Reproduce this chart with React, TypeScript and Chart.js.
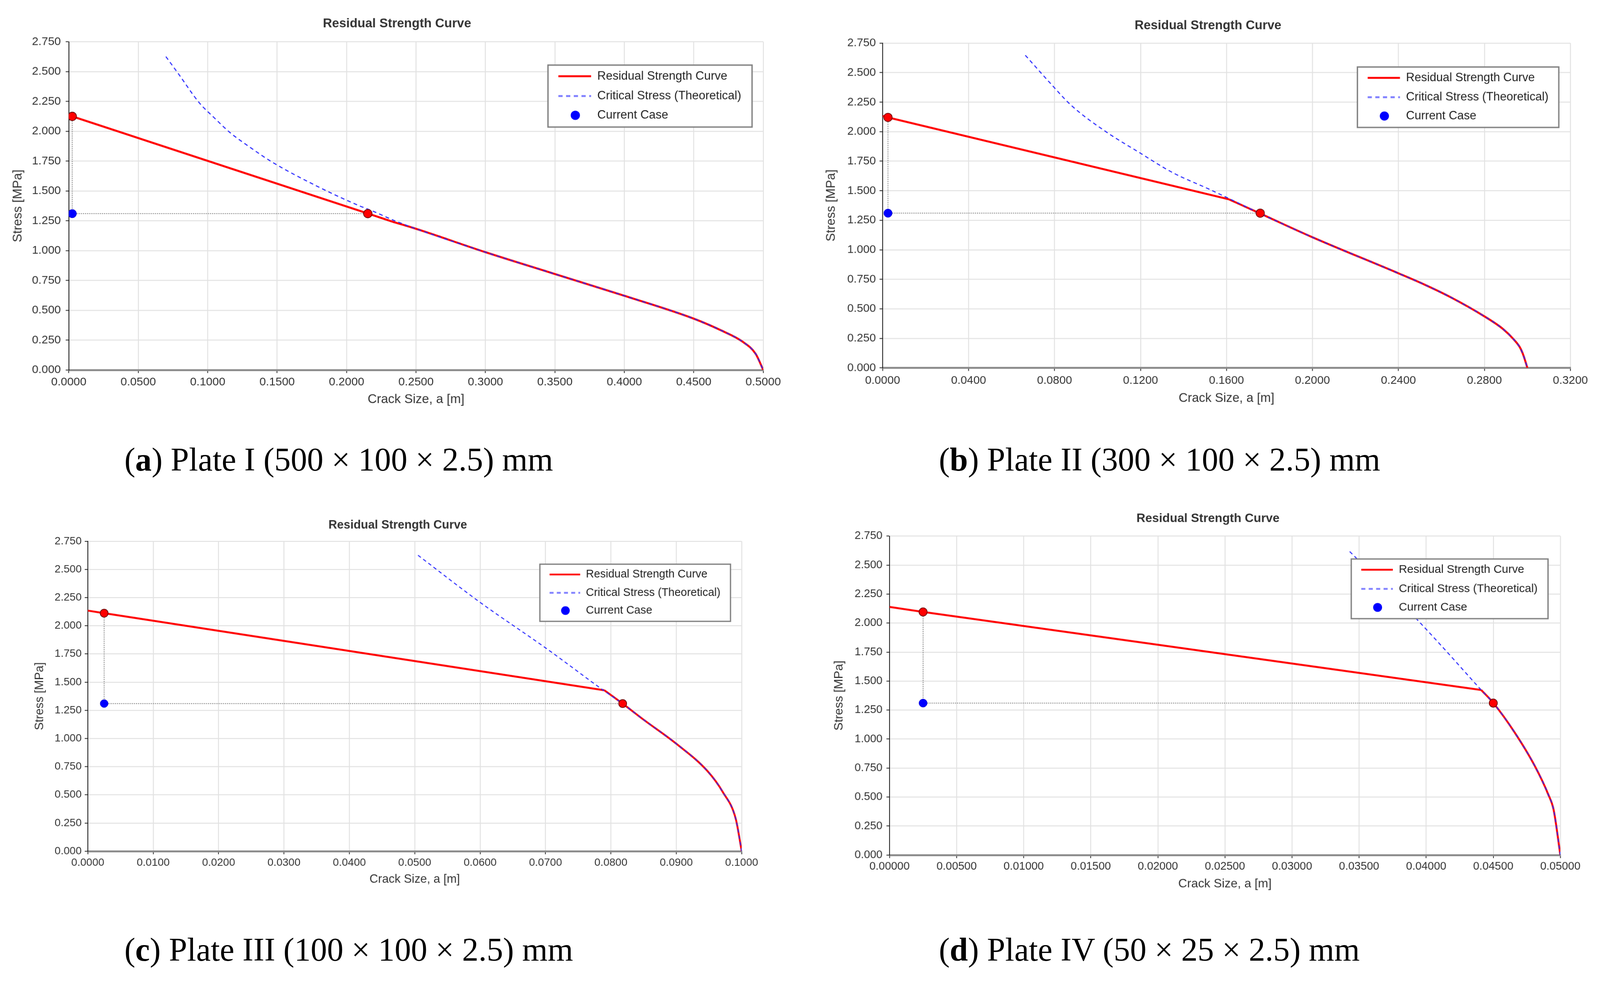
import { useEffect, useRef } from "react";
import { Chart, registerables } from "chart.js";

Chart.register(...registerables);
Chart.defaults.font.family = "'Liberation Sans', Arial, sans-serif";

// ---- data ----
const legendLabels = ["Residual Strength Curve", "Critical Stress (Theoretical)", "Current Case"];
const stressTicks = [0, 0.25, 0.5, 0.75, 1, 1.25, 1.5, 1.75, 2, 2.25, 2.5, 2.75];

// Plate I (500 x 100 x 2.5): straight part up to the knee, then the curved part
const plate1Ticks = [0, 0.05, 0.1, 0.15, 0.2, 0.25, 0.3, 0.35, 0.4, 0.45, 0.5];
const plate1LineA = [0, 0.0025, 0.2153, 0.233];
const plate1LineS = [2.135, 2.125, 1.311, 1.243];
const plate1CurveA = [0.233, 0.25, 0.3, 0.35, 0.4, 0.45, 0.47, 0.485, 0.4945, 0.5];
const plate1CurveS = [1.243, 1.183, 0.987, 0.804, 0.622, 0.43, 0.33, 0.238, 0.136, 0];
const plate1CriticalA = [0.0699, 0.0791, 0.0938, 0.105, 0.116, 0.13, 0.146, 0.1763, 0.2081, 0.2187, 0.2346, 0.25, 0.3, 0.35, 0.4, 0.45, 0.47, 0.485, 0.4945, 0.5];
const plate1CriticalS = [2.626, 2.479, 2.241, 2.11, 1.99, 1.87, 1.745, 1.554, 1.381, 1.332, 1.251, 1.183, 0.987, 0.804, 0.622, 0.43, 0.33, 0.238, 0.136, 0];

// Plate II (300 x 100 x 2.5)
const plate2Ticks = [0, 0.04, 0.08, 0.12, 0.16, 0.2, 0.24, 0.28, 0.32];
const plate2LineA = [0, 0.0025, 0.1612];
const plate2LineS = [2.133, 2.121, 1.427];
const plate2CurveA = [0.1612, 0.1757, 0.199, 0.24, 0.2518, 0.2642, 0.28, 0.2888, 0.2937, 0.2965, 0.2981, 0.3];
const plate2CurveS = [1.427, 1.307, 1.114, 0.801, 0.708, 0.599, 0.436, 0.327, 0.24, 0.174, 0.109, 0];
const plate2CriticalA = [0.0664, 0.0782, 0.0877, 0.1043, 0.1185, 0.1351, 0.1517, 0.1624, 0.1757, 0.199, 0.24, 0.2518, 0.2642, 0.28, 0.2888, 0.2937, 0.2965, 0.2981, 0.3];
const plate2CriticalS = [2.647, 2.407, 2.224, 1.995, 1.834, 1.652, 1.515, 1.423, 1.307, 1.114, 0.801, 0.708, 0.599, 0.436, 0.327, 0.24, 0.174, 0.109, 0];

// Plate III (100 x 100 x 2.5)
const plate3Ticks = [0, 0.01, 0.02, 0.03, 0.04, 0.05, 0.06, 0.07, 0.08, 0.09, 0.1];
const plate3LineA = [0, 0.0025, 0.079];
const plate3LineS = [2.135, 2.112, 1.428];
const plate3CurveA = [0.079, 0.0818, 0.085, 0.0901, 0.0948, 0.0971, 0.0991, 0.1];
const plate3CurveS = [1.428, 1.309, 1.167, 0.949, 0.709, 0.526, 0.286, 0];
const plate3CriticalA = [0.0505, 0.06, 0.0702, 0.0788, 0.0818, 0.085, 0.0901, 0.0948, 0.0971, 0.0991, 0.1];
const plate3CriticalS = [2.626, 2.208, 1.796, 1.43, 1.309, 1.167, 0.949, 0.709, 0.526, 0.286, 0];

// Plate IV (50 x 25 x 2.5)
const plate4Ticks = [0, 0.005, 0.01, 0.015, 0.02, 0.025, 0.03, 0.035, 0.04, 0.045, 0.05];
const plate4LineA = [0, 0.0025, 0.0441];
const plate4LineS = [2.139, 2.096, 1.423];
const plate4CurveA = [0.0441, 0.045, 0.0466, 0.0481, 0.0491, 0.0495, 0.05];
const plate4CurveS = [1.423, 1.312, 1.056, 0.767, 0.522, 0.389, 0];
const plate4CriticalA = [0.0343, 0.0392, 0.0416, 0.0441, 0.045, 0.0466, 0.0481, 0.0491, 0.0495, 0.05];
const plate4CriticalS = [2.617, 2.045, 1.745, 1.423, 1.312, 1.056, 0.767, 0.522, 0.389, 0];

// current case markers, one entry per plate (a..d)
const currentCrack = [0.0025, 0.0025, 0.0025, 0.0025];
const currentStress = [1.31, 1.31, 1.31, 1.31];
const residualAtCurrent = [2.125, 2.121, 2.112, 2.096];
const criticalCrack = [0.2153, 0.1757, 0.0818, 0.045];
const tickDecimals = [4, 4, 4, 5];

const captionLetters = ["a", "b", "c", "d"];
const captionTexts = [
  " Plate I (500 × 100 × 2.5) mm",
  " Plate II (300 × 100 × 2.5) mm",
  " Plate III (100 × 100 × 2.5) mm",
  " Plate IV (50 × 25 × 2.5) mm",
];

const xTicksList = [plate1Ticks, plate2Ticks, plate3Ticks, plate4Ticks];
const lineA = [plate1LineA, plate2LineA, plate3LineA, plate4LineA];
const lineS = [plate1LineS, plate2LineS, plate3LineS, plate4LineS];
const curveA = [plate1CurveA, plate2CurveA, plate3CurveA, plate4CurveA];
const curveS = [plate1CurveS, plate2CurveS, plate3CurveS, plate4CurveS];
const criticalA = [plate1CriticalA, plate2CriticalA, plate3CriticalA, plate4CriticalA];
const criticalS = [plate1CriticalS, plate2CriticalS, plate3CriticalS, plate4CriticalS];

// ---- layout (page pixels of the 4155 x 2553 figure) ----
type Layout = {
  left: number; top: number; width: number; height: number;
  L: number; T: number; R: number; B: number;
  yTitleX: number; yTickGap: number; xTickY: number; xTitleY: number;
  titleX: number; titleY: number;
  legend: number[];
  s: number;
};

const layouts: Layout[] = [
  { left: 0, top: 0, width: 2077, height: 1090, L: 178.6, T: 108.5, R: 1982, B: 961,
    yTitleX: 47, yTickGap: 20.6, xTickY: 993, xTitleY: 1038, titleX: 1031, titleY: 62,
    legend: [1423, 169, 530, 161], s: 1 },
  { left: 2077, top: 0, width: 2078, height: 1090, L: 215, T: 112, R: 2001, B: 955.5,
    yTitleX: 82, yTickGap: 17.5, xTickY: 989, xTitleY: 1035, titleX: 1060, titleY: 66.6,
    legend: [1448, 174, 523, 157], s: 0.99 },
  { left: 0, top: 1280, width: 2077, height: 1130, L: 228, T: 126, R: 1926, B: 931,
    yTitleX: 103.5, yTickGap: 16, xTickY: 961, xTitleY: 1004.5, titleX: 1033, titleY: 84,
    legend: [1402, 185.5, 495, 148.5], s: 0.935 },
  { left: 2077, top: 1280, width: 2078, height: 1130, L: 233, T: 112.5, R: 1975, B: 941,
    yTitleX: 102, yTickGap: 18.3, xTickY: 971, xTitleY: 1016.5, titleX: 1060, titleY: 67,
    legend: [1432, 172, 511, 155], s: 0.965 },
];

const captionPos = [
  { left: 323, baseline: 1222 },
  { left: 2438, baseline: 1222 },
  { left: 323, baseline: 2495 },
  { left: 2438, baseline: 2495 },
];

const pts = (xs: number[], ys: number[]) => xs.map((x, i) => ({ x, y: ys[i] }));

const PlateChart = ({ index }: { index: number }) => {
  const canvasRef = useRef<HTMLCanvasElement | null>(null);
  const lay = layouts[index];

  useEffect(() => {
    if (!canvasRef.current) return;
    const s = lay.s;
    const tickFont = 30 * s;
    const axisFont = 33 * s;
    const tickLen = 8;
    const pl = 8;
    const Wy = lay.L - pl;
    const Hx = lay.xTitleY - lay.B + 0.6 * axisFont + 8;
    const xTicks = xTicksList[index];
    const dec = tickDecimals[index];
    const a0 = currentCrack[index];
    const s0 = currentStress[index];

    const decor = {
      id: "panelDecor",
      afterDraw(chart: any) {
        const ctx = chart.ctx as CanvasRenderingContext2D;
        ctx.save();
        // title
        ctx.font = `bold ${33 * s}px 'Liberation Sans', Arial, sans-serif`;
        ctx.fillStyle = "#333";
        ctx.textAlign = "center";
        ctx.textBaseline = "middle";
        ctx.fillText("Residual Strength Curve", lay.titleX, lay.titleY);

        // legend box inside the plot
        const [lx, ly, lw, lh] = lay.legend;
        const fx = lw / 530;
        const fy = lh / 161;
        ctx.fillStyle = "#fff";
        ctx.fillRect(lx, ly, lw, lh);
        ctx.lineWidth = 3.5 * s;
        ctx.strokeStyle = "#808080";
        ctx.strokeRect(lx, ly, lw, lh);
        const rows = [29, 80.6, 130.6].map((r) => ly + r * fy);
        ctx.lineCap = "butt";
        ctx.strokeStyle = "#ff0000";
        ctx.lineWidth = 5 * s;
        ctx.beginPath();
        ctx.moveTo(lx + 27 * fx, rows[0]);
        ctx.lineTo(lx + 112 * fx, rows[0]);
        ctx.stroke();
        ctx.strokeStyle = "#8080ff";
        ctx.setLineDash([11 * s, 9 * s]);
        ctx.beginPath();
        ctx.moveTo(lx + 27 * fx, rows[1]);
        ctx.lineTo(lx + 112 * fx, rows[1]);
        ctx.stroke();
        ctx.setLineDash([]);
        ctx.fillStyle = "#0000ff";
        ctx.beginPath();
        ctx.arc(lx + 71 * fx, rows[2], 12 * s, 0, Math.PI * 2);
        ctx.fill();
        ctx.fillStyle = "#222";
        ctx.textAlign = "left";
        ctx.font = `${31 * s}px 'Liberation Sans', Arial, sans-serif`;
        legendLabels.forEach((t, i) => ctx.fillText(t, lx + 128 * fx, rows[i]));
        ctx.restore();
      },
    };

    const guide = {
      showLine: true,
      borderColor: "#8c8c8c",
      borderWidth: 2.2,
      borderDash: [3, 2.5],
      pointRadius: 0,
    };

    const chart = new Chart(canvasRef.current, {
      type: "scatter",
      data: {
        datasets: [
          {
            label: "Current Case",
            data: pts([a0], [s0]),
            pointRadius: 11 * s,
            pointBackgroundColor: "#0000ff",
            pointBorderColor: "#0000c8",
            pointBorderWidth: 1,
            showLine: false,
            order: 0,
          },
          {
            label: "Markers",
            data: pts([a0, criticalCrack[index]], [residualAtCurrent[index], s0]),
            pointRadius: 11 * s,
            pointBackgroundColor: "#ff0000",
            pointBorderColor: "#6a0000",
            pointBorderWidth: 1.8,
            showLine: false,
            order: 1,
          },
          {
            label: legendLabels[1],
            data: pts(criticalA[index], criticalS[index]),
            showLine: true,
            cubicInterpolationMode: "monotone",
            borderColor: "#2a2aff",
            borderWidth: 2.7 * s,
            borderDash: [10 * s, 8 * s],
            pointRadius: 0,
            order: 2,
          },
          {
            label: legendLabels[0],
            data: pts(curveA[index], curveS[index]),
            showLine: true,
            cubicInterpolationMode: "monotone",
            borderColor: "#ff0000",
            borderWidth: 5.2 * s,
            pointRadius: 0,
            order: 3,
          },
          {
            label: legendLabels[0] + " (linear)",
            data: pts(lineA[index], lineS[index]),
            showLine: true,
            borderColor: "#ff0000",
            borderWidth: 5.2 * s,
            pointRadius: 0,
            order: 4,
          },
          { label: "guide-v", data: pts([a0, a0], [residualAtCurrent[index], s0]), ...guide, order: 5 },
          { label: "guide-h", data: pts([a0, criticalCrack[index]], [s0, s0]), ...guide, order: 6 },
        ],
      },
      options: {
        animation: false,
        responsive: false,
        events: [],
        layout: {
          padding: {
            left: pl,
            top: lay.T,
            right: lay.width - lay.R,
            bottom: lay.height - lay.B - Hx,
          },
        },
        plugins: {
          legend: { display: false },
          tooltip: { enabled: false },
          title: { display: false },
        },
        scales: {
          x: {
            type: "linear",
            min: 0,
            max: xTicks[xTicks.length - 1],
            afterBuildTicks: (scale: any) => {
              scale.ticks = xTicks.map((v) => ({ value: v }));
            },
            afterFit: (scale: any) => {
              scale.height = Hx;
            },
            ticks: {
              autoSkip: false,
              maxRotation: 0,
              padding: lay.xTickY - lay.B - tickLen - 0.6 * tickFont,
              color: "#333",
              font: { size: tickFont },
              callback: (v: any) => Number(v).toFixed(dec),
            },
            grid: { color: "#e2e2e2", lineWidth: 2.5, tickColor: "#222", tickLength: tickLen, tickWidth: 2 },
            border: { color: "#8a8a8a", width: 5 },
            title: {
              display: true,
              text: "Crack Size, a [m]",
              color: "#333",
              font: { size: axisFont },
              padding: { top: 0, bottom: 8 },
            },
          },
          y: {
            type: "linear",
            min: 0,
            max: 2.75,
            afterBuildTicks: (scale: any) => {
              scale.ticks = stressTicks.map((v) => ({ value: v }));
            },
            afterFit: (scale: any) => {
              scale.width = Wy;
            },
            ticks: {
              padding: lay.yTickGap - tickLen,
              color: "#333",
              font: { size: tickFont },
              callback: (v: any) => Number(v).toFixed(3),
            },
            grid: { color: "#e2e2e2", lineWidth: 2.5, tickColor: "#222", tickLength: tickLen, tickWidth: 2 },
            border: { color: "#111", width: 2 },
            title: {
              display: true,
              text: "Stress [MPa]",
              color: "#333",
              font: { size: axisFont },
              padding: { top: lay.yTitleX - pl - 0.6 * axisFont, bottom: 0 },
            },
          },
        },
      },
      plugins: [decor],
    });

    return () => {
      chart.destroy();
    };
  }, [index]);

  return (
    <canvas
      ref={canvasRef}
      width={lay.width}
      height={lay.height}
      style={{ position: "absolute", left: lay.left, top: lay.top }}
    />
  );
};

const Caption = ({ index }: { index: number }) => {
  const pos = captionPos[index];
  return (
    <div
      style={{
        position: "absolute",
        left: pos.left,
        top: pos.baseline - 71,
        fontFamily: "'Liberation Serif', 'Times New Roman', serif",
        fontSize: 85,
        lineHeight: "85px",
        whiteSpace: "nowrap",
        color: "#000",
      }}
    >
      (<b>{captionLetters[index]}</b>){captionTexts[index]}
    </div>
  );
};

export default function App() {
  // the viewport can be a little narrower than 4155 px: scale the figure uniformly to fit it
  const kx = (window.innerWidth || 4155) / 4155;
  const ky = (window.innerHeight || 2553) / 2553;
  const k = Math.min(kx, ky);
  return (
    <div
      style={{
        position: "fixed",
        left: 0,
        top: 0,
        width: "100vw",
        height: "100vh",
        overflow: "hidden",
        background: "#fff",
      }}
    >
      <div
        style={{
          position: "absolute",
          left: 0,
          top: 0,
          width: 4155,
          height: 2553,
          transform: `scale(${k})`,
          transformOrigin: "0 0",
        }}
      >
        {[0, 1, 2, 3].map((i) => (
          <PlateChart key={"c" + i} index={i} />
        ))}
        {[0, 1, 2, 3].map((i) => (
          <Caption key={"t" + i} index={i} />
        ))}
      </div>
    </div>
  );
}
